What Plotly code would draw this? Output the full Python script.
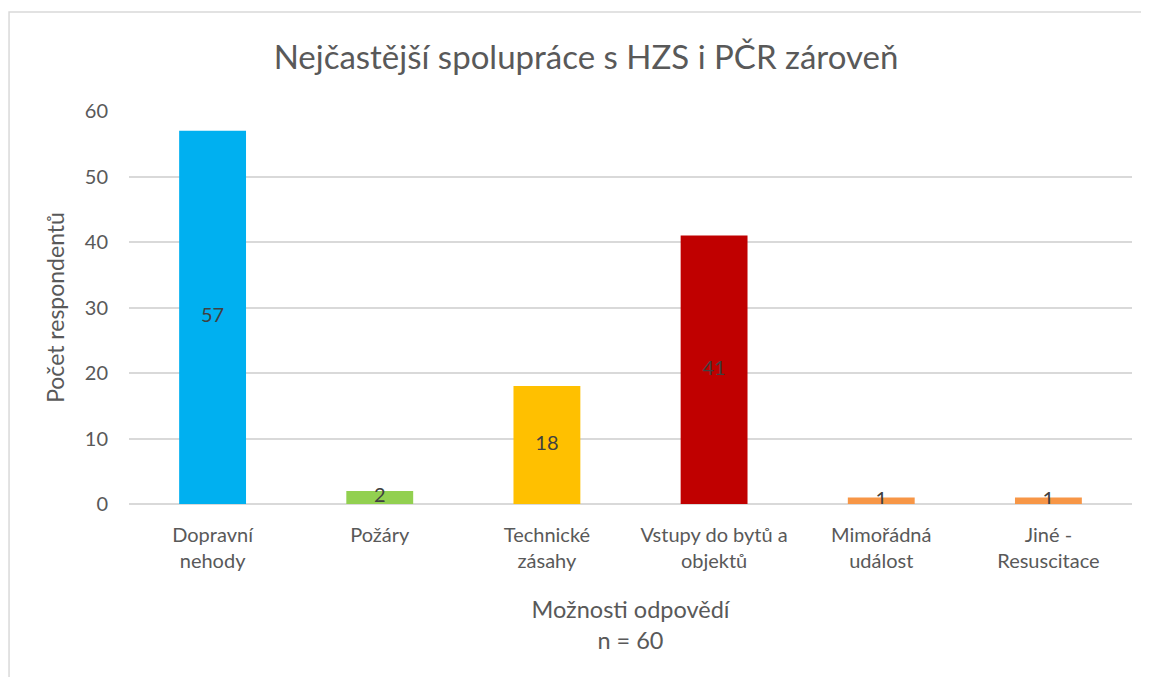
import plotly.graph_objects as go

categories = ["Dopravní<br>nehody", "Požáry", "Technické<br>zásahy", "Vstupy do bytů a<br>objektů", "Mimořádná<br>událost", "Jiné -<br>Resuscitace"]
values = [57, 2, 18, 41, 1, 1]
colors = ["#00B0F0", "#92D050", "#FFC000", "#C00000", "#F79646", "#F79646"]
y_ticks = [0, 10, 20, 30, 40, 50, 60]

FONT = "Lato"
GREY = "#595959"

fig = go.Figure()
fig.add_trace(go.Bar(x=categories, y=values, marker=dict(color=colors, line=dict(width=0)),
                     width=0.4, hoverinfo="x+y"))
fig.add_trace(go.Scatter(x=categories, y=[v / 2 for v in values], mode="text",
                         text=[str(v) for v in values],
                         textfont=dict(family=FONT, size=20, color="#404040"),
                         textposition="middle center", hoverinfo="skip"))

fig.update_layout(
    width=1141, height=669,
    margin=dict(l=121, r=17, t=103, b=173),
    paper_bgcolor="white", plot_bgcolor="white",
    showlegend=False,
    bargap=0.6,
    title=dict(text="Nejčastější spolupráce s HZS i PČR zároveň", x=578 / 1141, xanchor="center",
               xref="container", y=1 - 49 / 669, yanchor="middle",
               font=dict(family=FONT, size=33, color=GREY)),
    font=dict(family=FONT, size=20, color=GREY),
)
fig.update_xaxes(showgrid=False, showline=False, ticks="", ticklabelstandoff=17,
                 tickfont=dict(family=FONT, size=20, color=GREY),
                 title=dict(text="Možnosti odpovědí<br>n = 60", font=dict(family=FONT, size=23.5, color=GREY), standoff=30))
fig.update_yaxes(range=[0, 60], tickvals=y_ticks, showgrid=True, gridcolor="#D9D9D9", gridwidth=1.5,
                 zeroline=True, zerolinecolor="#D9D9D9", zerolinewidth=1.5, showline=False, ticks="",
                 ticklabelstandoff=20,
                 tickfont=dict(family=FONT, size=20, color=GREY),
                 title=dict(text="Počet respondentů", font=dict(family=FONT, size=23, color=GREY), standoff=13))
fig.add_shape(type="rect", xref="paper", yref="paper", x0=-0.1196, x1=1.05, y0=-0.6, y1=1.252,
              line=dict(color="#D9D9D9", width=1.5), fillcolor="rgba(0,0,0,0)", layer="below")

fig.write_html("out.html")
